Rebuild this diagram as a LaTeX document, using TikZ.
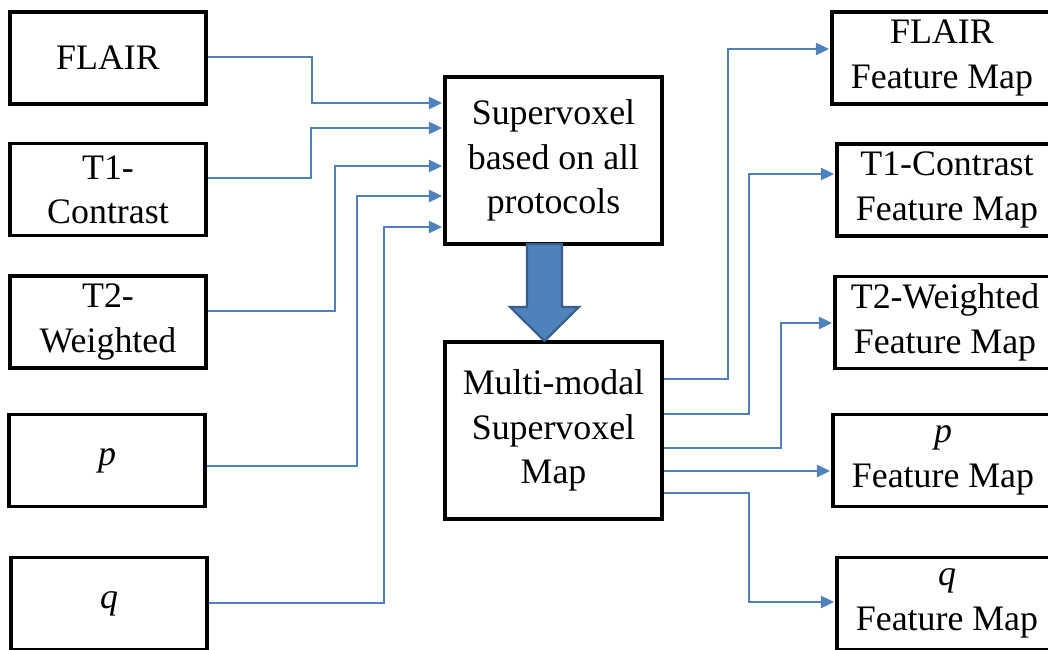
\documentclass[tikz,border=0pt]{standalone}
\usepackage{fontspec}
\setmainfont{Liberation Serif}
\usetikzlibrary{arrows.meta, calc}
\definecolor{feedBlue}{HTML}{4F81BD}
\definecolor{feedDark}{HTML}{385D8A}
\tikzset{
    box/.style={draw, line width=2.2pt, fill=white, align=center, inner sep=0pt,
        font=\fontsize{25.5}{31.5}\selectfont},
    inBox/.style={box, minimum width=4.9cm, minimum height=2.3cm},
    midBox/.style={box, minimum width=5.425cm},
    outBox/.style={box, minimum width=5.5cm, minimum height=2.3cm},
    feed/.style={-{Triangle[length=3.3mm, width=3.1mm]}, draw=feedBlue, line width=1.1pt, shorten >=1pt},
    bigArrow/.style={fill=feedBlue, draw=feedDark, line width=1.5pt, line join=miter},
}
\newcommand{\drawFeed}[5]{
    % from, height at source, x of the bend, to, height at target
    \draw[feed] (#1.east |- 0,#2) -| (#3,#5) -- (#4.west |- 0,#5);
}

\begin{document}
\begin{tikzpicture}[x=0.025cm, y=-0.025cm]
    \useasboundingbox (0,0) rectangle (1048,650);
    \clip (0,0) rectangle (1048,650);

    % inputs
    \node[inBox] (flair) at (108, 58) {FLAIR};
    \node[inBox] (tone) at (108, 189.5) {T1-\\Contrast};
    \node[inBox] (ttwo) at (108, 322) {T2-\\Weighted};
    \node[inBox] (pin) at (107, 460.5) {\textit{p}};
    \node[inBox] (qin) at (109, 603.5) {\textit{q}};

    % supervoxels
    \node[midBox, minimum height=4.175cm] (sv) at (553.5, 160.5) {Supervoxel\\based on all\\protocols};
    \node[midBox, minimum height=4.425cm] (mm) at (553.5, 430.5) {Multi-modal\\Supervoxel\\Map};

    % outputs
    \node[outBox] (fflair) at (942, 58) {FLAIR\\Feature Map};
    \node[outBox] (ftone) at (947, 190) {T1-Contrast\\Feature Map};
    \node[outBox] (fttwo) at (945, 322.5) {T2-Weighted\\Feature Map};
    \node[outBox] (fp) at (943, 460.5) {\textit{p}\\Feature Map};
    \node[outBox] (fq) at (947, 603.5) {\textit{q}\\Feature Map};

    \drawFeed{flair}{57}{312}{sv}{103}
    \drawFeed{tone}{178}{311}{sv}{128}
    \drawFeed{ttwo}{311}{335}{sv}{166}
    \drawFeed{pin}{466}{357}{sv}{196}
    \drawFeed{qin}{603}{384}{sv}{227}

    \drawFeed{mm}{379}{728}{fflair}{49}
    \drawFeed{mm}{414}{749}{ftone}{174}
    \drawFeed{mm}{448}{781}{fttwo}{323}
    \drawFeed{mm}{471}{800}{fp}{471}
    \drawFeed{mm}{493}{749}{fq}{602}

    % block arrow
    \coordinate (arrowTop) at (544.5, 244);
    \coordinate (arrowTip) at (544.5, 341);
    \draw[bigArrow] ($(arrowTop)+(-17.5,0)$) -- ++(0,63) -- ++(-17,0) -- (arrowTip)
        -- ++(34.5,-34) -- ++(-17,0) -- ++(0,-63) -- cycle;

\end{tikzpicture}
\end{document}
